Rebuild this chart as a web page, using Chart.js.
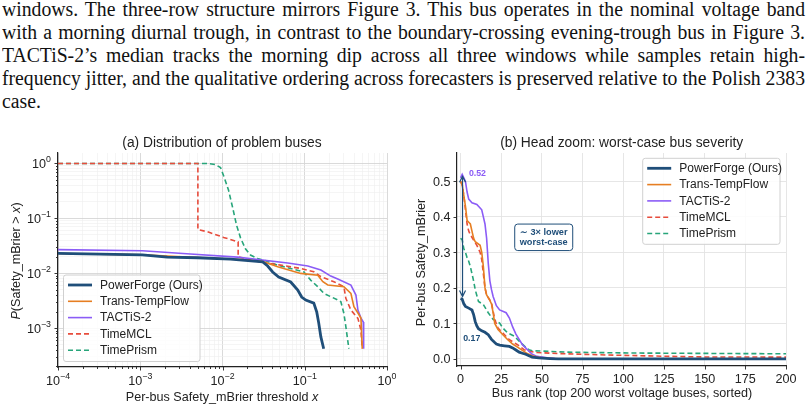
<!DOCTYPE html>
<html>
<head>
<meta charset="utf-8">
<script src="https://cdn.jsdelivr.net/npm/chart.js@4.4.0/dist/chart.umd.min.js"></script>
<style>
  html, body { margin: 0; padding: 0; background: #fff; }
  body { width: 808px; height: 411px; position: relative; overflow: hidden; }
  #para { position: absolute; left: 2px; top: -2px; width: 1200px; transform-origin: 0 0;
          font-family: "Liberation Serif", serif; font-size: 20px; line-height: 23px; color: #111; }
  #para div { white-space: nowrap; }
  #para.just div { text-align: justify; text-align-last: justify; }
  #para.just div.last { text-align-last: left; }
  #wrapA { position: absolute; left: 0; top: 125px; width: 400px; height: 286px; }
  #wrapB { position: absolute; left: 400px; top: 125px; width: 408px; height: 286px; }
</style>
</head>
<body>
<div id="para">
  <div><span>windows. The three-row structure mirrors Figure 3. This bus operates in the nominal voltage band</span></div>
  <div><span>with a morning diurnal trough, in contrast to the boundary-crossing evening-trough bus in Figure 3.</span></div>
  <div><span>TACTiS-2’s median tracks the morning dip across all three windows while samples retain high-</span></div>
  <div><span>frequency jitter, and the qualitative ordering across forecasters is preserved relative to the Polish 2383</span></div>
  <div class="last"><span>case.</span></div>
</div>
<div id="wrapA"><canvas id="chartA"></canvas></div>
<div id="wrapB"><canvas id="chartB"></canvas></div>
<script>
// ---- (a) CCDF of per-bus Safety_mBrier ----
var PF_X = [1e-4, 1.06e-3, 2.13e-3, 4.95e-3, 0.0125, 0.0308, 0.0354, 0.0407, 0.0482, 0.0675, 0.0822, 0.0918, 0.1028, 0.1288, 0.14, 0.148, 0.157, 0.17];
var PF_P = [0.0230, 0.0216, 0.0196, 0.0191, 0.0181, 0.0161, 0.0135, 0.0105, 0.0085, 0.0069, 0.0049, 0.00367, 0.00324, 0.00285, 0.00195, 0.00123, 0.00069, 0.00042];

var TTF_X = [1e-4, 1.06e-3, 4.95e-3, 0.0166, 0.0308, 0.0469, 0.0893, 0.144, 0.166, 0.191, 0.299, 0.364, 0.396, 0.443, 0.482, 0.50];
var TTF_P = [0.0228, 0.0216, 0.0192, 0.0177, 0.0163, 0.0131, 0.0099, 0.0092, 0.0070, 0.0061, 0.00565, 0.00428, 0.00244, 0.00188, 0.00152, 0.00042];

var TAC_X = [1e-4, 1.06e-3, 4.07e-3, 0.0152, 0.0621, 0.109, 0.157, 0.207, 0.252, 0.364, 0.419, 0.443, 0.482, 0.515, 0.52];
var TAC_P = [0.0269, 0.0256, 0.0223, 0.0196, 0.0153, 0.0135, 0.0114, 0.00885, 0.00781, 0.00607, 0.00399, 0.00213, 0.00152, 0.00129, 0.00042];

var MCL_X = [1e-4, 5.02e-3, 5.02e-3, 6.56e-3, 0.0103, 0.0155, 0.0155, 0.0219, 0.0509, 0.0893, 0.129, 0.157, 0.226, 0.299, 0.316, 0.364, 0.443, 0.482, 0.50];
var MCL_P = [1.0, 1.0, 0.0623, 0.0568, 0.0449, 0.0373, 0.0199, 0.0173, 0.0140, 0.0122, 0.0106, 0.0086, 0.0070, 0.00565, 0.00348, 0.00213, 0.0015, 0.00092, 0.00042];

var TPR_X = [1e-4, 6.56e-3, 8.22e-3, 9.46e-3, 0.01057, 0.01183, 0.01324, 0.01482, 0.0166, 0.0191, 0.0219, 0.0267, 0.0316, 0.0469, 0.0675, 0.0972, 0.118, 0.144, 0.171, 0.252, 0.275, 0.299, 0.316, 0.344];
var TPR_P = [1.0, 1.0, 0.95, 0.84, 0.54, 0.327, 0.16, 0.0752, 0.0436, 0.0275, 0.0214, 0.0185, 0.0173, 0.0140, 0.0122, 0.0106, 0.00748, 0.00565, 0.00428, 0.00324, 0.00301, 0.00185, 0.00106, 0.00042];

// ---- (b) top-200 ranked buses ----
var PF_RANK = [0, 1, 2, 3, 5, 7, 8, 9, 10, 11, 13, 15, 17, 19, 21, 22, 24, 27, 30, 32, 34, 36, 38, 40, 42, 44, 48, 55, 60, 200];
var PF_VAL  = [0.17, 0.168, 0.155, 0.148, 0.143, 0.138, 0.125, 0.105, 0.093, 0.085, 0.079, 0.075, 0.068, 0.055, 0.046, 0.042, 0.039, 0.037, 0.035, 0.031, 0.025, 0.019, 0.016, 0.013, 0.009, 0.005, 0.003, 0.001, 0, 0];

var TTF_RANK = [0, 1, 2, 3, 4, 6, 7, 8, 9, 12, 13, 14, 15, 16, 18, 19, 20, 21, 23, 26, 29, 32, 35, 38, 41, 44, 47, 52, 58, 65, 200];
var TTF_VAL  = [0.50, 0.49, 0.46, 0.43, 0.39, 0.38, 0.36, 0.34, 0.33, 0.32, 0.30, 0.26, 0.20, 0.18, 0.165, 0.155, 0.13, 0.10, 0.083, 0.068, 0.054, 0.042, 0.033, 0.024, 0.015, 0.009, 0.005, 0.002, 0.0005, 0, 0];

var TAC_RANK = [0, 1, 2, 3, 4, 5, 7, 10, 13, 14, 15, 16, 17, 18, 19, 20, 22, 24, 28, 30, 32, 34, 36, 38, 40, 42, 44, 47, 52, 58, 65, 200];
var TAC_VAL  = [0.51, 0.52, 0.51, 0.50, 0.47, 0.45, 0.44, 0.435, 0.42, 0.40, 0.38, 0.34, 0.27, 0.22, 0.195, 0.176, 0.15, 0.138, 0.13, 0.115, 0.09, 0.07, 0.055, 0.04, 0.031, 0.022, 0.013, 0.007, 0.004, 0.001, 0, 0];

var MCL_RANK = [0, 1, 2, 3, 4, 5, 6, 8, 10, 12, 13, 14, 15, 16, 19, 21, 23, 26, 30, 35, 39, 43, 47, 60, 75, 90, 110, 130, 150, 200];
var MCL_VAL  = [0.50, 0.49, 0.46, 0.42, 0.38, 0.36, 0.35, 0.335, 0.32, 0.30, 0.28, 0.24, 0.20, 0.18, 0.158, 0.111, 0.087, 0.073, 0.054, 0.040, 0.026, 0.021, 0.018, 0.015, 0.013, 0.011, 0.009, 0.007, 0.0055, 0.005];

var TPR_RANK = [0, 1, 2, 3, 4, 5, 6, 7, 8, 9, 11, 14, 17, 20, 24, 26, 29, 33, 36, 40, 42, 44, 51, 65, 104, 179, 200];
var TPR_VAL  = [0.34, 0.335, 0.31, 0.30, 0.285, 0.275, 0.26, 0.24, 0.22, 0.195, 0.162, 0.153, 0.13, 0.111, 0.101, 0.087, 0.073, 0.064, 0.050, 0.033, 0.026, 0.023, 0.022, 0.019, 0.0166, 0.0148, 0.0145];

var LABELS = ['PowerForge (Ours)', 'Trans-TempFlow', 'TACTiS-2', 'TimeMCL', 'TimePrism'];
var COLORS = ['#1f4e79', '#e67e22', '#8b5cf6', '#e74c3c', '#27a57a'];
var WIDTHS = [2.8, 1.6, 1.6, 1.6, 1.6];
var DASHES = [[], [], [], [5, 3], [5, 3]];

var CCDF_X = [PF_X, TTF_X, TAC_X, MCL_X, TPR_X];
var CCDF_P = [PF_P, TTF_P, TAC_P, MCL_P, TPR_P];
var RANKS = [PF_RANK, TTF_RANK, TAC_RANK, MCL_RANK, TPR_RANK];
var VALS = [PF_VAL, TTF_VAL, TAC_VAL, MCL_VAL, TPR_VAL];

var X_DECADES = [-4, -3, -2, -1, 0];
var Y_DECADES = [-3, -2, -1, 0];
var RANK_TICKS = [0, 25, 50, 75, 100, 125, 150, 175, 200];
var SEV_TICKS = [0.0, 0.1, 0.2, 0.3, 0.4, 0.5];

var FONT = '"Liberation Sans", Arial, sans-serif';
var TEXT = '#222';
var TICK_PX = 12.6, LABEL_PX = 12.6, LEGEND_PX = 12, TITLE_PX = 13.8;

// fit the paragraph lines: widest line sets the horizontal scale, the rest get justified
(function () {
    var para = document.getElementById('para');
    var maxW = 0;
    para.querySelectorAll('span').forEach(function (s) { maxW = Math.max(maxW, s.getBoundingClientRect().width); });
    para.style.width = maxW + 'px';
    para.style.transform = 'scaleX(' + (803 / maxW) + ')';
    para.className = 'just';
})();

function pts(xs, ys) {
    return xs.map(function (x, i) { return { x: x, y: ys[i] }; });
}

// major decades plus 2..9 minor ticks, clipped to range
function logTicks(lo, hi) {
    var out = [];
    for (var e = -5; e <= 1; e++) {
        for (var k = 1; k <= 9; k++) {
            var v = parseFloat((k * Math.pow(10, e)).toPrecision(3));
            if (v >= lo * 0.999 && v <= hi * 1.001) out.push({ value: v, major: k === 1, exp: e });
        }
    }
    return out;
}

var X_MIN = 1e-4, X_MAX = 1, Y_MIN = 1.95e-4, Y_MAX = 1.55;
var X_TICKS = logTicks(X_MIN, X_MAX);
var Y_TICKS = logTicks(Y_MIN, Y_MAX);

function drawPow(ctx, x, y, exp, align) {
    var base = '10', sup = exp === 0 ? '0' : '\u2212' + Math.abs(exp);
    ctx.font = TICK_PX + 'px ' + FONT;
    var wb = ctx.measureText(base).width;
    ctx.font = '8.8px ' + FONT;
    var ws = ctx.measureText(sup).width;
    var x0 = align === 'center' ? x - (wb + ws) / 2 : x - (wb + ws);
    ctx.textAlign = 'left';
    ctx.textBaseline = 'alphabetic';
    ctx.fillStyle = TEXT;
    ctx.font = TICK_PX + 'px ' + FONT;
    ctx.fillText(base, x0, y);
    ctx.font = '8.8px ' + FONT;
    ctx.fillText(sup, x0 + wb, y - 5.8);
}

// text made of [string, italic] pieces, centred at (x, y)
function drawMixed(ctx, parts, x, y, size, rotate) {
    ctx.save();
    ctx.translate(x, y);
    if (rotate) ctx.rotate(-Math.PI / 2);
    var total = 0, widths = [];
    parts.forEach(function (p) {
        ctx.font = (p[1] ? 'italic ' : '') + size + 'px ' + FONT;
        var w = ctx.measureText(p[0]).width;
        widths.push(w);
        total += w;
    });
    var cx = -total / 2;
    ctx.textAlign = 'left';
    ctx.textBaseline = 'middle';
    ctx.fillStyle = TEXT;
    parts.forEach(function (p, i) {
        ctx.font = (p[1] ? 'italic ' : '') + size + 'px ' + FONT;
        ctx.fillText(p[0], cx, 0);
        cx += widths[i];
    });
    ctx.restore();
}

function drawLegend(ctx, x, y, w, h) {
    ctx.save();
    ctx.beginPath();
    var r = 2.5;
    ctx.moveTo(x + r, y);
    ctx.arcTo(x + w, y, x + w, y + h, r);
    ctx.arcTo(x + w, y + h, x, y + h, r);
    ctx.arcTo(x, y + h, x, y, r);
    ctx.arcTo(x, y, x + w, y, r);
    ctx.closePath();
    ctx.fillStyle = 'rgba(255,255,255,0.85)';
    ctx.fill();
    ctx.strokeStyle = '#d0d0d0';
    ctx.lineWidth = 1;
    ctx.stroke();
    LABELS.forEach(function (lab, i) {
        var cy = y + 10 + i * 16.3;
        ctx.beginPath();
        ctx.setLineDash(DASHES[i]);
        ctx.strokeStyle = COLORS[i];
        ctx.lineWidth = WIDTHS[i];
        ctx.moveTo(x + 4.5, cy);
        ctx.lineTo(x + 28.5, cy);
        ctx.stroke();
        ctx.setLineDash([]);
        ctx.fillStyle = TEXT;
        ctx.font = LEGEND_PX + 'px ' + FONT;
        ctx.textAlign = 'left';
        ctx.textBaseline = 'middle';
        ctx.fillText(lab, x + 36.5, cy + 0.5);
    });
    ctx.restore();
}

function drawTitle(ctx, text, x, y) {
    ctx.save();
    ctx.font = TITLE_PX + 'px ' + FONT;
    ctx.fillStyle = TEXT;
    ctx.textAlign = 'center';
    ctx.textBaseline = 'middle';
    ctx.fillText(text, x, y);
    ctx.restore();
}

var panelA = {
    id: 'panelA',
    afterDraw: function (chart) {
        var ctx = chart.ctx, xs = chart.scales.x, ys = chart.scales.y, a = chart.chartArea;
        ctx.save();
        ctx.strokeStyle = TEXT;
        ctx.lineWidth = 0.9;
        X_TICKS.forEach(function (t) {
            var px = Math.round(xs.getPixelForValue(t.value)) + 0.5;
            ctx.beginPath();
            ctx.moveTo(px, a.bottom);
            ctx.lineTo(px, a.bottom + (t.major ? 3.5 : 2));
            ctx.stroke();
            if (t.major) drawPow(ctx, xs.getPixelForValue(t.value), a.bottom + 18, t.exp, 'center');
        });
        Y_TICKS.forEach(function (t) {
            var py = Math.round(ys.getPixelForValue(t.value)) + 0.5;
            ctx.beginPath();
            ctx.moveTo(a.left, py);
            ctx.lineTo(a.left - (t.major ? 3.5 : 2), py);
            ctx.stroke();
            if (t.major) drawPow(ctx, a.left - 7, ys.getPixelForValue(t.value) + 4.5, t.exp, 'right');
        });
        ctx.restore();
        drawTitle(ctx, '(a) Distribution of problem buses', 222, 18.3);
        drawMixed(ctx, [['Per-bus Safety_mBrier threshold ', false], ['x', true]], 222, 272.5, LABEL_PX, false);
        drawMixed(ctx, [['P', true], ['(Safety_mBrier ', false], ['>', false], [' ', false], ['x', true], [')', false]], 16.5, 136, LABEL_PX, true);
        drawLegend(ctx, 63.5, 150, 136.5, 86.5);
    }
};

var ANNOT = { arrowRank: 1.2, arrowLow: 0.17, arrowHigh: 0.52, peakRank: 5.1, peakVal: 0.522, lowRank: 1.6, lowVal: 0.057, boxRank: 51.1, boxVal: 0.3425 };

var panelB = {
    id: 'panelB',
    afterDraw: function (chart) {
        var ctx = chart.ctx, xs = chart.scales.x, ys = chart.scales.y, a = chart.chartArea;
        ctx.save();
        ctx.strokeStyle = TEXT;
        ctx.lineWidth = 0.9;
        ctx.fillStyle = TEXT;
        ctx.font = TICK_PX + 'px ' + FONT;
        RANK_TICKS.forEach(function (t) {
            var px = Math.round(xs.getPixelForValue(t)) + 0.5;
            ctx.beginPath();
            ctx.moveTo(px, a.bottom);
            ctx.lineTo(px, a.bottom + 3.5);
            ctx.stroke();
            ctx.textAlign = 'center';
            ctx.textBaseline = 'alphabetic';
            ctx.fillText(String(t), xs.getPixelForValue(t), a.bottom + 17);
        });
        SEV_TICKS.forEach(function (t) {
            var py = Math.round(ys.getPixelForValue(t)) + 0.5;
            ctx.beginPath();
            ctx.moveTo(a.left, py);
            ctx.lineTo(a.left - 3.5, py);
            ctx.stroke();
            ctx.textAlign = 'right';
            ctx.textBaseline = 'alphabetic';
            ctx.fillText(t.toFixed(1), a.left - 6.5, ys.getPixelForValue(t) + 4.5);
        });

        // double-headed arrow between worst-case values
        var ax = xs.getPixelForValue(ANNOT.arrowRank);
        var yTop = ys.getPixelForValue(ANNOT.arrowHigh) + 2, yBot = ys.getPixelForValue(ANNOT.arrowLow) - 2;
        ctx.strokeStyle = COLORS[0];
        ctx.lineWidth = 1.2;
        ctx.beginPath();
        ctx.moveTo(ax, yTop);
        ctx.lineTo(ax, yBot);
        ctx.moveTo(ax - 3, yTop + 6);
        ctx.lineTo(ax, yTop);
        ctx.lineTo(ax + 3, yTop + 6);
        ctx.moveTo(ax - 3, yBot - 6);
        ctx.lineTo(ax, yBot);
        ctx.lineTo(ax + 3, yBot - 6);
        ctx.stroke();

        ctx.font = 'bold 8.8px ' + FONT;
        ctx.textAlign = 'left';
        ctx.textBaseline = 'middle';
        ctx.fillStyle = COLORS[2];
        ctx.fillText('0.52', xs.getPixelForValue(ANNOT.peakRank), ys.getPixelForValue(ANNOT.peakVal));
        ctx.fillStyle = COLORS[0];
        ctx.fillText('0.17', xs.getPixelForValue(ANNOT.lowRank), ys.getPixelForValue(ANNOT.lowVal));

        // annotation box
        var bx = xs.getPixelForValue(ANNOT.boxRank), by = ys.getPixelForValue(ANNOT.boxVal);
        var lines = ['\u223C 3\u00D7 lower', 'worst-case'];
        ctx.font = 'bold 9.2px ' + FONT;
        var w = Math.max(ctx.measureText(lines[0]).width, ctx.measureText(lines[1]).width) + 10, h = 26.5;
        var x0 = bx - w / 2, y0 = by - h / 2, r = 3;
        ctx.beginPath();
        ctx.moveTo(x0 + r, y0);
        ctx.arcTo(x0 + w, y0, x0 + w, y0 + h, r);
        ctx.arcTo(x0 + w, y0 + h, x0, y0 + h, r);
        ctx.arcTo(x0, y0 + h, x0, y0, r);
        ctx.arcTo(x0, y0, x0 + w, y0, r);
        ctx.closePath();
        ctx.fillStyle = '#fff';
        ctx.fill();
        ctx.strokeStyle = COLORS[0];
        ctx.lineWidth = 1;
        ctx.stroke();
        ctx.fillStyle = COLORS[0];
        ctx.textAlign = 'center';
        ctx.fillText(lines[0], bx, by - 5.3);
        ctx.fillText(lines[1], bx, by + 5.3);
        ctx.restore();

        drawTitle(ctx, '(b) Head zoom: worst-case bus severity', 221.7, 18.3);
        drawMixed(ctx, [['Bus rank (top 200 worst voltage buses, sorted)', false]], 222, 269, LABEL_PX, false);
        drawMixed(ctx, [['Per-bus Safety_mBrier', false]], 21.7, 137.5, LABEL_PX, true);
        drawLegend(ctx, 242.7, 33.3, 137.3, 86);
    }
};

function makeDatasets(xsList, ysList) {
    return LABELS.map(function (lab, i) {
        return {
            label: lab,
            data: pts(xsList[i], ysList[i]),
            borderColor: COLORS[i],
            borderWidth: WIDTHS[i],
            borderDash: DASHES[i],
            pointRadius: 0,
            fill: false,
            tension: 0
        };
    });
}

Chart.defaults.font.family = FONT;

new Chart(document.getElementById('chartA'), {
    type: 'line',
    data: { datasets: makeDatasets(CCDF_X, CCDF_P) },
    options: {
        responsive: true,
        maintainAspectRatio: false,
        animation: false,
        layout: { padding: { left: 0, right: 13, top: 28, bottom: 0 } },
        plugins: { legend: { display: false }, tooltip: { enabled: false } },
        scales: {
            x: {
                type: 'logarithmic', min: X_MIN, max: X_MAX,
                afterFit: function (s) { s.height = 44; },
                afterBuildTicks: function (s) { s.ticks = X_TICKS.map(function (t) { return { value: t.value, major: t.major }; }); },
                ticks: { display: false },
                grid: {
                    drawTicks: false,
                    color: function (c) { return c.tick && c.tick.major ? '#d6d6d6' : '#eeeeee'; },
                    lineWidth: function (c) { return c.tick && c.tick.major ? 0.9 : 0.6; }
                },
                border: { display: true, color: TEXT, width: 1.2 }
            },
            y: {
                type: 'logarithmic', min: Y_MIN, max: Y_MAX,
                afterFit: function (s) { s.width = 58; },
                afterBuildTicks: function (s) { s.ticks = Y_TICKS.map(function (t) { return { value: t.value, major: t.major }; }); },
                ticks: { display: false },
                grid: {
                    drawTicks: false,
                    color: function (c) { return c.tick && c.tick.major ? '#d6d6d6' : '#eeeeee'; },
                    lineWidth: function (c) { return c.tick && c.tick.major ? 0.9 : 0.6; }
                },
                border: { display: true, color: TEXT, width: 1.2 }
            }
        }
    },
    plugins: [panelA]
});

new Chart(document.getElementById('chartB'), {
    type: 'line',
    data: { datasets: makeDatasets(RANKS, VALS) },
    options: {
        responsive: true,
        maintainAspectRatio: false,
        animation: false,
        layout: { padding: { left: 0, right: 22, top: 28, bottom: 0 } },
        plugins: { legend: { display: false }, tooltip: { enabled: false } },
        scales: {
            x: {
                type: 'linear', min: -2.2, max: 200,
                afterFit: function (s) { s.height = 45; },
                afterBuildTicks: function (s) { s.ticks = RANK_TICKS.map(function (t) { return { value: t }; }); },
                ticks: { display: false },
                grid: { drawTicks: false, color: '#e3e3e3', lineWidth: 0.9 },
                border: { display: true, color: TEXT, width: 1.2 }
            },
            y: {
                type: 'linear', min: -0.02, max: 0.58,
                afterFit: function (s) { s.width = 57; },
                afterBuildTicks: function (s) { s.ticks = SEV_TICKS.map(function (t) { return { value: t }; }); },
                ticks: { display: false },
                grid: { drawTicks: false, color: '#e3e3e3', lineWidth: 0.9 },
                border: { display: true, color: TEXT, width: 1.2 }
            }
        }
    },
    plugins: [panelB]
});
</script>
</body>
</html>
